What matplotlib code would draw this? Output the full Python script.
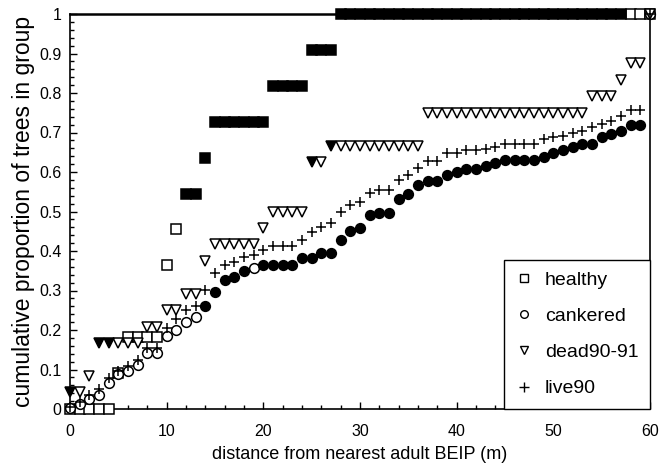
import matplotlib
matplotlib.use("Agg")
import matplotlib.pyplot as plt
from matplotlib.lines import Line2D
from matplotlib.ticker import MultipleLocator

plt.rcParams['font.family'] = ['Liberation Sans', 'DejaVu Sans']

distance = list(range(61))

healthy = [0, 0, 0, 0, 0, 0.091, 0.182, 0.182, 0.182, 0.182,
           0.364, 0.455, 0.545, 0.545, 0.636, 0.727, 0.727, 0.727, 0.727, 0.727,
           0.727, 0.818, 0.818, 0.818, 0.818, 0.909, 0.909, 0.909, 1.0, 1.0,
           1.0, 1.0, 1.0, 1.0, 1.0, 1.0, 1.0, 1.0, 1.0, 1.0,
           1.0, 1.0, 1.0, 1.0, 1.0, 1.0, 1.0, 1.0, 1.0, 1.0,
           1.0, 1.0, 1.0, 1.0, 1.0, 1.0, 1.0, 1.0, 1.0, 1.0, 1.0]
healthy_filled = list(range(12, 58))

cankered = [0.003, 0.012, 0.025, 0.035, 0.066, 0.089, 0.097, 0.111, 0.142, 0.142,
            0.185, 0.201, 0.221, 0.233, 0.262, 0.296, 0.327, 0.334, 0.349, 0.357,
            0.364, 0.364, 0.364, 0.364, 0.382, 0.382, 0.395, 0.395, 0.428, 0.450,
            0.458, 0.492, 0.496, 0.496, 0.531, 0.544, 0.567, 0.577, 0.577, 0.592,
            0.600, 0.607, 0.607, 0.615, 0.622, 0.630, 0.630, 0.630, 0.630, 0.638,
            0.648, 0.656, 0.664, 0.671, 0.671, 0.689, 0.696, 0.704, 0.719, 0.719, 1.0]
cankered_filled = [14, 15, 16, 17, 18] + list(range(20, 60))

dead = [0.042, 0.042, 0.083, 0.167, 0.167, 0.167, 0.167, 0.167, 0.208, 0.208,
        0.250, 0.250, 0.292, 0.292, 0.375, 0.417, 0.417, 0.417, 0.417, 0.417,
        0.458, 0.500, 0.500, 0.500, 0.500, 0.625, 0.625, 0.667, 0.667, 0.667,
        0.667, 0.667, 0.667, 0.667, 0.667, 0.667, 0.667, 0.750, 0.750, 0.750,
        0.750, 0.750, 0.750, 0.750, 0.750, 0.750, 0.750, 0.750, 0.750, 0.750,
        0.750, 0.750, 0.750, 0.750, 0.792, 0.792, 0.792, 0.833, 0.875, 0.875, 1.0]
dead_filled = [0, 3, 4, 25, 27]

live = [0.005, 0.018, 0.035, 0.050, 0.078, 0.097, 0.110, 0.124, 0.154, 0.154,
        0.206, 0.228, 0.250, 0.261, 0.301, 0.344, 0.365, 0.372, 0.385, 0.390,
        0.402, 0.413, 0.413, 0.413, 0.428, 0.448, 0.461, 0.471, 0.499, 0.516,
        0.524, 0.547, 0.554, 0.554, 0.580, 0.592, 0.610, 0.628, 0.628, 0.648,
        0.648, 0.656, 0.656, 0.658, 0.664, 0.670, 0.670, 0.670, 0.670, 0.683,
        0.689, 0.691, 0.698, 0.704, 0.714, 0.722, 0.729, 0.742, 0.757, 0.757, 1.0]

series_labels = ['healthy', 'cankered', 'dead90-91', 'live90']
xticks = [0, 10, 20, 30, 40, 50, 60]
yticks = [0, 0.1, 0.2, 0.3, 0.4, 0.5, 0.6, 0.7, 0.8, 0.9, 1.0]
ytick_labels = ['0', '0.1', '0.2', '0.3', '0.4', '0.5', '0.6', '0.7', '0.8', '0.9', '1']

fig = plt.figure(figsize=(6.6, 4.68), dpi=100)
ax = fig.add_axes([70 / 660, 1 - 409 / 468, 580 / 660, 395 / 468])


def draw(values, filled, marker, ms):
    xo = [x for x in distance if x not in filled]
    yo = [values[x] for x in xo]
    xf = [x for x in distance if x in filled]
    yf = [values[x] for x in xf]
    if marker == '+':
        ax.plot(xo, yo, linestyle='none', marker='+', ms=ms, mew=1.1,
                color='black', clip_on=False, zorder=3)
    else:
        ax.plot(xo, yo, linestyle='none', marker=marker, ms=ms, mew=1.1,
                mfc='white', mec='black', clip_on=False, zorder=3)
        if xf:
            ax.plot(xf, yf, linestyle='none', marker=marker, ms=ms, mew=1.1,
                    mfc='black', mec='black', clip_on=False, zorder=3)


draw(healthy, healthy_filled, 's', 7.2)
draw(cankered, cankered_filled, 'o', 7.0)
draw(dead, dead_filled, 'v', 7.0)
draw(live, [], '+', 7.5)

ax.set_xlim(0, 60)
ax.set_ylim(0, 1)
ax.set_xticks(xticks)
ax.set_xticklabels([str(t) for t in xticks])
ax.set_yticks(yticks)
ax.set_yticklabels(ytick_labels)
ax.xaxis.set_minor_locator(MultipleLocator(2))
ax.yaxis.set_minor_locator(MultipleLocator(0.02))
ax.tick_params(which='both', direction='in', top=False, right=False, width=1.0)
ax.tick_params(which='major', length=5, labelsize=11.5)
ax.tick_params(axis='x', which='major', pad=11)
ax.tick_params(axis='y', which='major', pad=6)
ax.tick_params(which='minor', length=3)
for s in ax.spines.values():
    s.set_linewidth(1.2)
ax.spines['top'].set_linewidth(1.8)

ax.set_xlabel('distance from nearest adult BEIP (m)', fontsize=13, labelpad=5)
ax.set_ylabel('cumulative proportion of trees in group', fontsize=16.5, labelpad=3)

handles = [
    Line2D([], [], linestyle='none', marker='s', ms=5.5, mew=1.0, mfc='white', mec='black'),
    Line2D([], [], linestyle='none', marker='o', ms=5.5, mew=1.0, mfc='white', mec='black'),
    Line2D([], [], linestyle='none', marker='v', ms=6, mew=1.0, mfc='white', mec='black'),
    Line2D([], [], linestyle='none', marker='+', ms=7, mew=1.0, color='black'),
]
leg = ax.legend(handles, series_labels, loc='lower right', bbox_to_anchor=(1, 0),
                borderaxespad=0, fancybox=False, frameon=True, fontsize=14,
                labelspacing=0.95, handlelength=0.9, handletextpad=0.6,
                borderpad=0.6)
leg.get_frame().set_edgecolor('black')
leg.get_frame().set_linewidth(1.0)
leg.get_frame().set_alpha(1)

fig.savefig('out.png', dpi=100)
